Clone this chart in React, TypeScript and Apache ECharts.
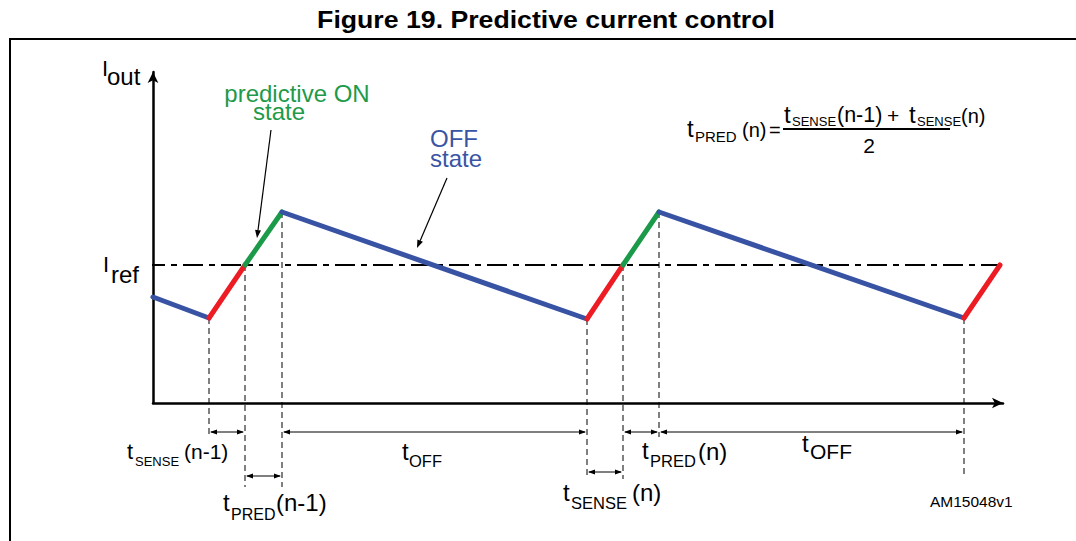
import React, { useEffect, useRef } from 'react';
import * as echarts from 'echarts';

const FONT = '"Liberation Sans", Arial, Helvetica, sans-serif';

// Waveform vertices: time (arbitrary units) and output current (arbitrary units)
const waveTime = [0, 56, 92, 129, 434, 470, 506, 811, 847];
const waveCurrent = [106, 85, 138, 191, 84, 138, 191, 85, 138];
// phase of each segment between consecutive vertices
const segmentPhase = ['off', 'sense', 'pred', 'off', 'sense', 'pred', 'off', 'sense'];
const phaseColor: Record<string, string> = { off: '#3953a4', sense: '#ed1c24', pred: '#1b9a4a' };

// reference current level and its drawn extent
const iRef = 138;
const iRefStart = -8;
const iRefEnd = 847;

// vertical dashed guides: waveform vertex index and lower end level
const guideVertex = [1, 2, 3, 4, 5, 6, 7];
const guideBottom = [-34, -84, -84, -76, -76, -34, -74];

// dimension arrows (time spans) and the level they are drawn at
const spanStart = [56, 92, 129, 434, 470, 506];
const spanEnd = [92, 129, 434, 470, 506, 811];
const spanLevel = [-29, -73, -29, -69, -29, -29];

const xMax = 850;
const yMax = 331;

const GREEN = '#1e9a4a';
const BLUE = '#3a54a4';

function piece(x: number, base: number, text: string, fs: number, o: any = {}) {
  return {
    type: 'text',
    x,
    y: base - 0.35 * fs,
    scaleX: o.sx ?? 1,
    silent: true,
    z: 10,
    style: {
      text,
      fill: o.color ?? '#000',
      fontSize: fs,
      fontFamily: FONT,
      fontWeight: o.bold ? 'bold' : 'normal',
      align: o.align ?? 'left',
      verticalAlign: 'middle',
    },
  };
}

function twoLine(x: number, firstBase: number, lineH: number, a: string, b: string, color: string, align: string, bPad: number) {
  const fs = 24;
  return {
    type: 'text',
    x,
    y: firstBase - lineH / 2 - 0.35 * fs,
    silent: true,
    z: 10,
    style: {
      text: `{a|${a}}\n{b|${b}}`,
      fill: color,
      fontSize: fs,
      fontFamily: FONT,
      align,
      verticalAlign: 'top',
      lineHeight: lineH,
      rich: {
        a: { fill: color, fontSize: fs, fontFamily: FONT, lineHeight: lineH },
        b: { fill: color, fontSize: fs, fontFamily: FONT, lineHeight: lineH, padding: [0, bPad, 0, 0] },
      },
    },
  };
}

function pointer(x1: number, y1: number, x2: number, y2: number) {
  const a = Math.atan2(y2 - y1, x2 - x1);
  const L = 8;
  const W = 3;
  const bx = x2 - L * Math.cos(a);
  const by = y2 - L * Math.sin(a);
  const px = -Math.sin(a) * W;
  const py = Math.cos(a) * W;
  return [
    { type: 'line', silent: true, shape: { x1, y1, x2: bx, y2: by }, style: { stroke: '#000', lineWidth: 1.2 } },
    {
      type: 'polygon',
      silent: true,
      shape: { points: [[x2, y2], [bx + px, by + py], [bx - px, by - py]] },
      style: { fill: '#000' },
    },
  ];
}

export default function App() {
  const ref = useRef<HTMLDivElement>(null);

  useEffect(() => {
    if (!ref.current) return;
    const chart = echarts.init(ref.current, null, { renderer: 'svg' });

    const waveSeries = segmentPhase.map((ph, k) => ({
      type: 'line',
      name: ph,
      data: [
        [waveTime[k], waveCurrent[k]],
        [waveTime[k + 1], waveCurrent[k + 1]],
      ],
      showSymbol: false,
      symbol: 'none',
      clip: false,
      silent: true,
      z: 5,
      lineStyle: { color: phaseColor[ph], width: 5, cap: 'round' },
    }));

    const axisCommon = {
      type: 'value',
      min: 0,
      axisLine: {
        show: true,
        symbol: ['none', 'arrow'],
        symbolSize: [8, 11],
        lineStyle: { color: '#000', width: 2.5 },
      },
      axisTick: { show: false },
      axisLabel: { show: false },
      splitLine: { show: false },
    };

    const option: any = {
      animation: false,
      backgroundColor: '#fff',
      grid: { left: 153, top: 72, width: xMax, height: yMax, containLabel: false },
      xAxis: { ...axisCommon, max: xMax },
      yAxis: { ...axisCommon, max: yMax },
      series: [
        {
          type: 'line',
          name: 'Iref',
          data: [
            [iRefStart, iRef],
            [iRefEnd, iRef],
          ],
          showSymbol: false,
          symbol: 'none',
          clip: false,
          silent: true,
          z: 2,
          lineStyle: { color: '#000', width: 2, type: [20, 6, 6, 6] },
        },
        ...waveSeries,
        {
          type: 'custom',
          name: 'guides',
          silent: true,
          clip: false,
          z: 1,
          data: guideVertex.map((v, j) => [waveTime[v], waveCurrent[v], guideBottom[j]]),
          renderItem: (_p: any, api: any) => {
            const a = api.coord([api.value(0), api.value(1)]);
            const b = api.coord([api.value(0), api.value(2)]);
            return {
              type: 'line',
              shape: { x1: a[0], y1: a[1], x2: b[0], y2: b[1] },
              style: { stroke: '#000', lineWidth: 1, lineDash: [6, 4] },
            };
          },
        },
        {
          type: 'custom',
          name: 'spans',
          silent: true,
          clip: false,
          z: 1,
          data: spanStart.map((s, j) => [s, spanLevel[j], spanEnd[j]]),
          renderItem: (_p: any, api: any) => {
            const a = api.coord([api.value(0), api.value(1)]);
            const b = api.coord([api.value(2), api.value(1)]);
            const y = a[1];
            const L = 7;
            const W = 2.5;
            return {
              type: 'group',
              children: [
                {
                  type: 'line',
                  shape: { x1: a[0] + 2, y1: y, x2: b[0] - 2, y2: y },
                  style: { stroke: '#000', lineWidth: 1 },
                },
                {
                  type: 'polygon',
                  shape: { points: [[a[0] + 1, y], [a[0] + 1 + L, y - W], [a[0] + 1 + L, y + W]] },
                  style: { fill: '#000' },
                },
                {
                  type: 'polygon',
                  shape: { points: [[b[0] - 1, y], [b[0] - 1 - L, y - W], [b[0] - 1 - L, y + W]] },
                  style: { fill: '#000' },
                },
              ],
            };
          },
        },
      ],
      graphic: [
        // frame
        { type: 'line', silent: true, shape: { x1: 9, y1: 39, x2: 1076, y2: 39 }, style: { stroke: '#000', lineWidth: 2 } },
        { type: 'line', silent: true, shape: { x1: 10, y1: 39, x2: 10, y2: 541 }, style: { stroke: '#000', lineWidth: 2 } },
        // title
        piece(546, 28, 'Figure 19. Predictive current control', 23, { bold: true, align: 'center', sx: 1.16 }),
        // axis names
        piece(102, 76, 'I', 22),
        piece(107, 85, 'out', 24),
        piece(103, 272, 'I', 22),
        piece(111, 283, 'ref', 24),
        // state annotations
        twoLine(297, 102, 18, 'predictive ON', 'state', GREEN, 'center', 36),
        twoLine(430, 147, 20, 'OFF', 'state', BLUE, 'left', 0),
        ...pointer(271, 130, 257, 238),
        ...pointer(447, 178, 417, 248),
        // formula
        piece(687, 137, 't', 24),
        piece(695, 142, 'PRED', 15),
        piece(742, 137, '(n)', 20),
        piece(769, 137, '=', 20),
        { type: 'line', silent: true, shape: { x1: 783, y1: 129, x2: 950, y2: 129 }, style: { stroke: '#000', lineWidth: 2 } },
        piece(784, 123, 't', 24),
        piece(792, 126, 'SENSE', 13),
        piece(837, 123, '(n-1)', 21.5),
        piece(887, 123, '+', 21),
        piece(909, 123, 't', 24),
        piece(917, 126, 'SENSE', 13),
        piece(961, 123, '(n)', 20),
        piece(869, 153, '2', 21, { align: 'center' }),
        // time span labels
        piece(127, 459, 't', 22),
        piece(135, 466, 'SENSE', 13),
        piece(184, 459, '(n-1)', 21),
        piece(223, 511, 't', 24),
        piece(231, 520, 'PRED', 16),
        piece(276, 511, '(n-1)', 24),
        piece(402, 460, 't', 24),
        piece(409, 467, 'OFF', 16.5),
        piece(563, 501, 't', 24),
        piece(571, 509, 'SENSE', 16.5),
        piece(632, 501, '(n)', 24),
        piece(642, 459, 't', 24),
        piece(650, 467, 'PRED', 16.5),
        piece(698, 460, '(n)', 24),
        piece(802, 452, 't', 24),
        piece(810, 459, 'OFF', 21),
        piece(930, 507, 'AM15048v1', 15.5),
      ],
    };

    chart.setOption(option);
    return () => chart.dispose();
  }, []);

  return (
    <div
      ref={ref}
      style={{ position: 'absolute', left: 0, top: 0, width: 1076, height: 541, background: '#fff' }}
    />
  );
}
